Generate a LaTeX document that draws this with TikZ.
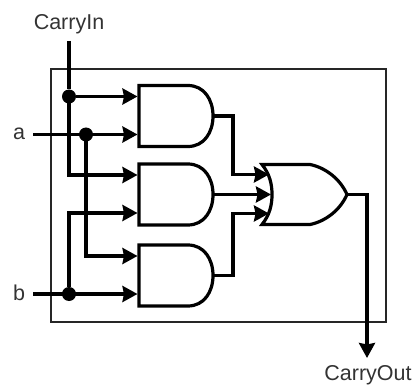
\documentclass[tikz,border=0pt]{standalone}
\usepackage{fontspec}
\setmainfont{Liberation Sans}
\usetikzlibrary{arrows.meta}
\tikzset{
frame/.style={line width=1.7pt, black!85},
gate/.style={line width=3.2pt, line join=miter},
wire/.style={line width=3.3pt},
arr/.style={wire,-{Stealth[length=15pt,width=16pt,inset=1.5pt]}},
point/.style={circle,inner sep=0pt,outer sep=0pt,fill=black,minimum size=14pt},
andgate/.pic={
    \draw[gate] (49,0) -- (0,0) -- (0,61) -- (49,61)
    .. controls (65,61) and (74,47) .. (74,30.5)
    .. controls (74,14) and (65,0) .. (49,0) -- cycle;
    \coordinate (-in1) at (-1.5,11);
    \coordinate (-in2) at (-1.5,49);
    \coordinate (-out) at (74,30.5);
},
orgate/.pic={
    \draw[gate] (0,0) -- (48,0)
    .. controls (63,3) and (78,14) .. (85,30)
    .. controls (78,46) and (63,57) .. (48,60)
    -- (0,60)
    .. controls (8,50) and (10,40) .. (10,30)
    .. controls (10,20) and (8,10) .. (0,0) -- cycle;
    \coordinate (-in1) at (7,10);
    \coordinate (-in2) at (9,30);
    \coordinate (-in3) at (7,49);
    \coordinate (-out) at (85,30);
},
}
\tikzstyle{every node}=[font=\fontsize{21.5}{25}\selectfont, text=black!80]
\begin{document}
\begin{tikzpicture}[x=1pt,y=-1pt]
    \useasboundingbox (0,0) rectangle (414,387);

    \draw[frame] (51,69) rectangle (386,322);

    \pic (andTop) at (139,85.5) {andgate};
    \pic (andMid) at (139,164) {andgate};
    \pic (andBot) at (139,245) {andgate};
    \pic (orOut) at (262,164.5) {orgate};

    \node (labelCarryIn) at (69,24) {CarryIn};
    \node (labelA) at (19,134) {a};
    \node (labelB) at (19,293) {b};
    \node (labelCarryOut) at (368,375) {CarryOut};

    \coordinate (carryStart) at (69,41);
    \coordinate (aStart) at (33,134.5);
    \coordinate (bStart) at (33,294);
    \coordinate (carryEnd) at (367,358);
    \coordinate (busX) at (233,0);

    \node[point] (dotCarry) at (69,96.5) {};
    \node[point] (dotA) at (86,134.5) {};
    \node[point] (dotB) at (69,294) {};

    % inputs
    \draw[wire] (carryStart) -- (dotCarry);
    \draw[arr] (dotCarry) -- (andTop-in1);
    \draw[arr] (dotCarry) |- (andMid-in1);
    \draw[arr] (aStart) -- (andTop-in2);
    \draw[arr] (dotA) |- (andBot-in1);
    \draw[arr] (bStart) -- (andBot-in2);
    \draw[arr] (dotB) |- (andMid-in2);

    % outputs
    \draw[arr] (andTop-out) -| (busX |- orOut-in1) -- (orOut-in1);
    \draw[arr] (andMid-out) -- (orOut-in2);
    \draw[arr] (andBot-out) -| (busX |- orOut-in3) -- (orOut-in3);
    \draw[arr] (orOut-out) -| (carryEnd);
\end{tikzpicture}
\end{document}
